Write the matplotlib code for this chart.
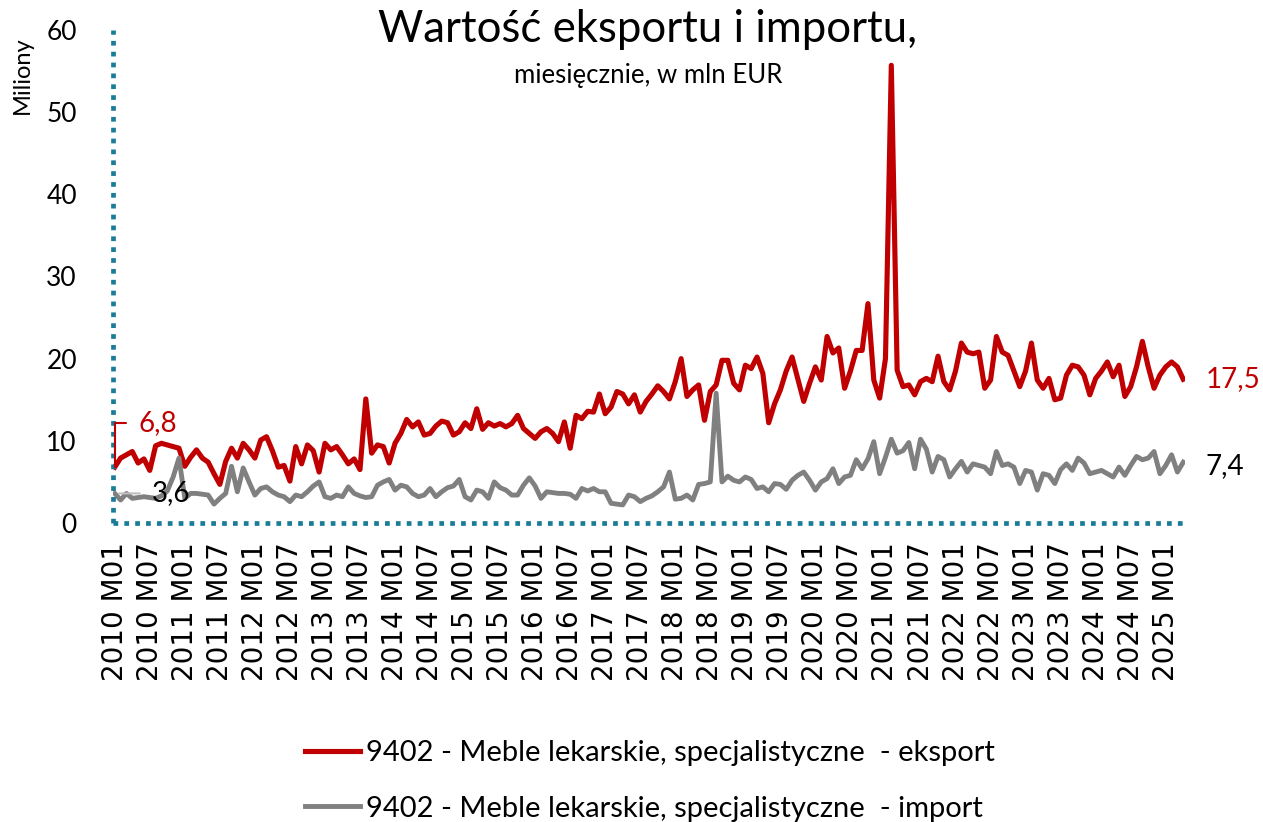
import matplotlib
matplotlib.use("Agg")
import matplotlib.pyplot as plt

# monthly values, 2010 M01 .. 2025 M04 (mln EUR)
eksport = [
    6.8, 7.9, 8.3, 8.7, 7.3, 7.8, 6.4, 9.4, 9.7, 9.5,
    9.3, 9.1, 6.9, 8.0, 8.9, 7.9, 7.4, 6.0, 4.7, 7.5,
    9.1, 7.9, 9.7, 8.9, 7.9, 10.1, 10.5, 8.8, 6.8, 7.0,
    5.1, 9.3, 7.2, 9.5, 8.8, 6.2, 9.7, 8.9, 9.3, 8.3,
    7.2, 7.8, 6.5, 15.1, 8.5, 9.5, 9.3, 7.3, 9.7, 10.9,
    12.6, 11.7, 12.3, 10.7, 10.9, 11.8, 12.4, 12.2, 10.7, 11.1,
    12.2, 11.5, 13.9, 11.4, 12.2, 11.8, 12.1, 11.7, 12.1, 13.1,
    11.5, 10.9, 10.3, 11.1, 11.5, 10.9, 9.9, 12.3, 9.1, 13.1,
    12.7, 13.6, 13.5, 15.7, 13.3, 14.1, 16.0, 15.7, 14.5, 15.6,
    13.5, 14.8, 15.7, 16.7, 16.0, 15.1, 17.2, 20.0, 15.4, 16.2,
    16.8, 12.5, 16.0, 16.8, 19.8, 19.8, 17.0, 16.2, 19.2, 18.8,
    20.2, 18.2, 12.2, 14.5, 16.2, 18.5, 20.2, 17.5, 14.8, 17.0,
    19.0, 17.4, 22.7, 20.7, 21.3, 16.4, 18.5, 21.0, 21.0, 26.7,
    17.4, 15.2, 20.0, 55.7, 18.6, 16.6, 16.8, 15.6, 17.2, 17.6,
    17.2, 20.3, 17.2, 16.2, 18.5, 21.9, 20.8, 20.6, 20.8, 16.4,
    17.4, 22.7, 20.8, 20.4, 18.5, 16.6, 18.5, 21.9, 17.4, 16.4,
    17.6, 15.0, 15.2, 18.0, 19.2, 19.0, 18.0, 15.6, 17.6, 18.5,
    19.6, 17.8, 19.2, 15.4, 16.6, 19.0, 22.1, 19.0, 16.4, 18.0,
    19.0, 19.6, 19.0, 17.5,
]
import_ = [
    3.6, 2.8, 3.6, 3.0, 3.1, 3.2, 3.1, 3.0, 3.3, 3.9,
    5.6, 7.9, 3.0, 3.6, 3.6, 3.5, 3.4, 2.3, 3.0, 3.6,
    6.9, 3.8, 6.7, 5.0, 3.4, 4.2, 4.4, 3.8, 3.4, 3.2,
    2.6, 3.4, 3.2, 3.8, 4.5, 5.0, 3.2, 3.0, 3.4, 3.2,
    4.4, 3.6, 3.3, 3.1, 3.2, 4.6, 5.0, 5.3, 4.0, 4.6,
    4.4, 3.6, 3.2, 3.4, 4.2, 3.2, 3.8, 4.3, 4.5, 5.3,
    3.2, 2.8, 4.0, 3.8, 3.0, 5.0, 4.3, 4.0, 3.4, 3.4,
    4.6, 5.5, 4.5, 3.0, 3.8, 3.7, 3.6, 3.6, 3.5, 3.0,
    4.2, 3.9, 4.2, 3.8, 3.8, 2.4, 2.3, 2.2, 3.4, 3.2,
    2.6, 3.0, 3.3, 3.8, 4.4, 6.2, 2.9, 3.0, 3.4, 2.8,
    4.7, 4.8, 5.0, 15.8, 5.0, 5.7, 5.2, 5.0, 5.6, 5.3,
    4.2, 4.4, 3.8, 4.8, 4.7, 4.1, 5.2, 5.8, 6.2, 5.2,
    4.0, 5.0, 5.4, 6.6, 4.8, 5.6, 5.8, 7.7, 6.6, 7.8,
    9.9, 6.0, 8.0, 10.2, 8.5, 8.8, 9.8, 6.6, 10.2, 9.0,
    6.2, 8.1, 7.7, 5.6, 6.6, 7.5, 6.2, 7.2, 7.0, 6.8,
    6.0, 8.7, 7.0, 7.2, 6.8, 4.8, 6.4, 6.2, 4.0, 6.0,
    5.8, 4.8, 6.5, 7.2, 6.4, 7.9, 7.3, 6.0, 6.2, 6.4,
    6.0, 5.6, 6.8, 5.8, 7.0, 8.1, 7.7, 7.9, 8.7, 6.0,
    7.0, 8.3, 6.2, 7.4,
]
months = [f"{2010 + k // 12} M{k % 12 + 1:02d}" for k in range(len(eksport))]
y_ticks = [0, 10, 20, 30, 40, 50, 60]

label_exp = "9402 - Meble lekarskie, specjalistyczne  - eksport"
label_imp = "9402 - Meble lekarskie, specjalistyczne  - import"

RED = "#C00000"
GREY = "#808080"
TEAL = "#1A7D98"
SANS = ["Lato", "DejaVu Sans"]

fig = plt.figure(figsize=(12.63, 8.22), dpi=100)
ax = fig.add_axes([113 / 1263, 1 - 523 / 822, (1185 - 113) / 1263, (523 - 30) / 822])

x = list(range(len(months)))
l1, = ax.plot(x, eksport, color=RED, lw=3.7, solid_joinstyle="round", label=label_exp)
l2, = ax.plot(x, import_, color=GREY, lw=3.5, solid_joinstyle="round", label=label_imp)

ax.set_xlim(-0.3, len(months) - 0.7)
ax.set_ylim(0, 60)
ax.set_yticks(y_ticks)
ax.set_yticklabels([str(v) for v in y_ticks], family=SANS, fontsize=19)
ax.set_xticks(x[::6])
ax.set_xticklabels(months[::6], rotation=90, family="DejaVu Sans", fontsize=20)
ax.tick_params(axis="y", length=0, pad=26)
ax.tick_params(axis="x", length=0, pad=14)

for s in ["top", "right"]:
    ax.spines[s].set_visible(False)
for s in ["left", "bottom"]:
    ax.spines[s].set_color(TEAL)
    ax.spines[s].set_linewidth(3.4)
    ax.spines[s].set_linestyle((0, (1, 1.3)))
    ax.spines[s].set_capstyle("butt")

# value labels
fmt = lambda v: f"{v:.1f}".replace(".", ",")
ax.annotate(fmt(eksport[0]), xy=(0, eksport[0]), xytext=(17, 32), textcoords="offset points",
            ha="left", va="center", color=RED, fontsize=20, family=SANS,
            arrowprops=dict(arrowstyle="-", color=RED, lw=1.5, shrinkA=7, shrinkB=0,
                            connectionstyle="angle,angleA=0,angleB=90,rad=0"))
ax.annotate(fmt(import_[0]), xy=(0, import_[0]), xytext=(27, 0), textcoords="offset points",
            ha="left", va="center", color="black", fontsize=20, family=SANS,
            arrowprops=dict(arrowstyle="-", color="#BFBFBF", lw=1.5, shrinkA=7, shrinkB=3))
ax.annotate(fmt(eksport[-1]), xy=(x[-1], eksport[-1]), xytext=(16, 0), textcoords="offset points",
            ha="left", va="center", color=RED, fontsize=20, family=SANS, annotation_clip=False)
ax.annotate(fmt(import_[-1]), xy=(x[-1], import_[-1]), xytext=(16, -3), textcoords="offset points",
            ha="left", va="center", color="black", fontsize=20, family=SANS, annotation_clip=False)

fig.text(648 / 1263, 1 - 30 / 822, "Wartość eksportu i importu,", ha="center", va="center",
         fontsize=31.5, family=SANS)
fig.text(648 / 1263, 1 - 75 / 822, "miesięcznie, w mln EUR", ha="center", va="center",
         fontsize=18.5, family=SANS)
fig.text(22 / 1263, 1 - 75 / 822, "Miliony", rotation=90, ha="center", va="center",
         fontsize=17, family=SANS)

fig.legend(handles=[l1, l2], loc="center", bbox_to_anchor=(650 / 1263, 1 - 781 / 822),
           frameon=False, ncol=1, prop={"family": SANS, "size": 21},
           handlelength=1.9, handletextpad=0.2, labelspacing=1.0, borderpad=0)

fig.savefig("out.png", dpi=100)
